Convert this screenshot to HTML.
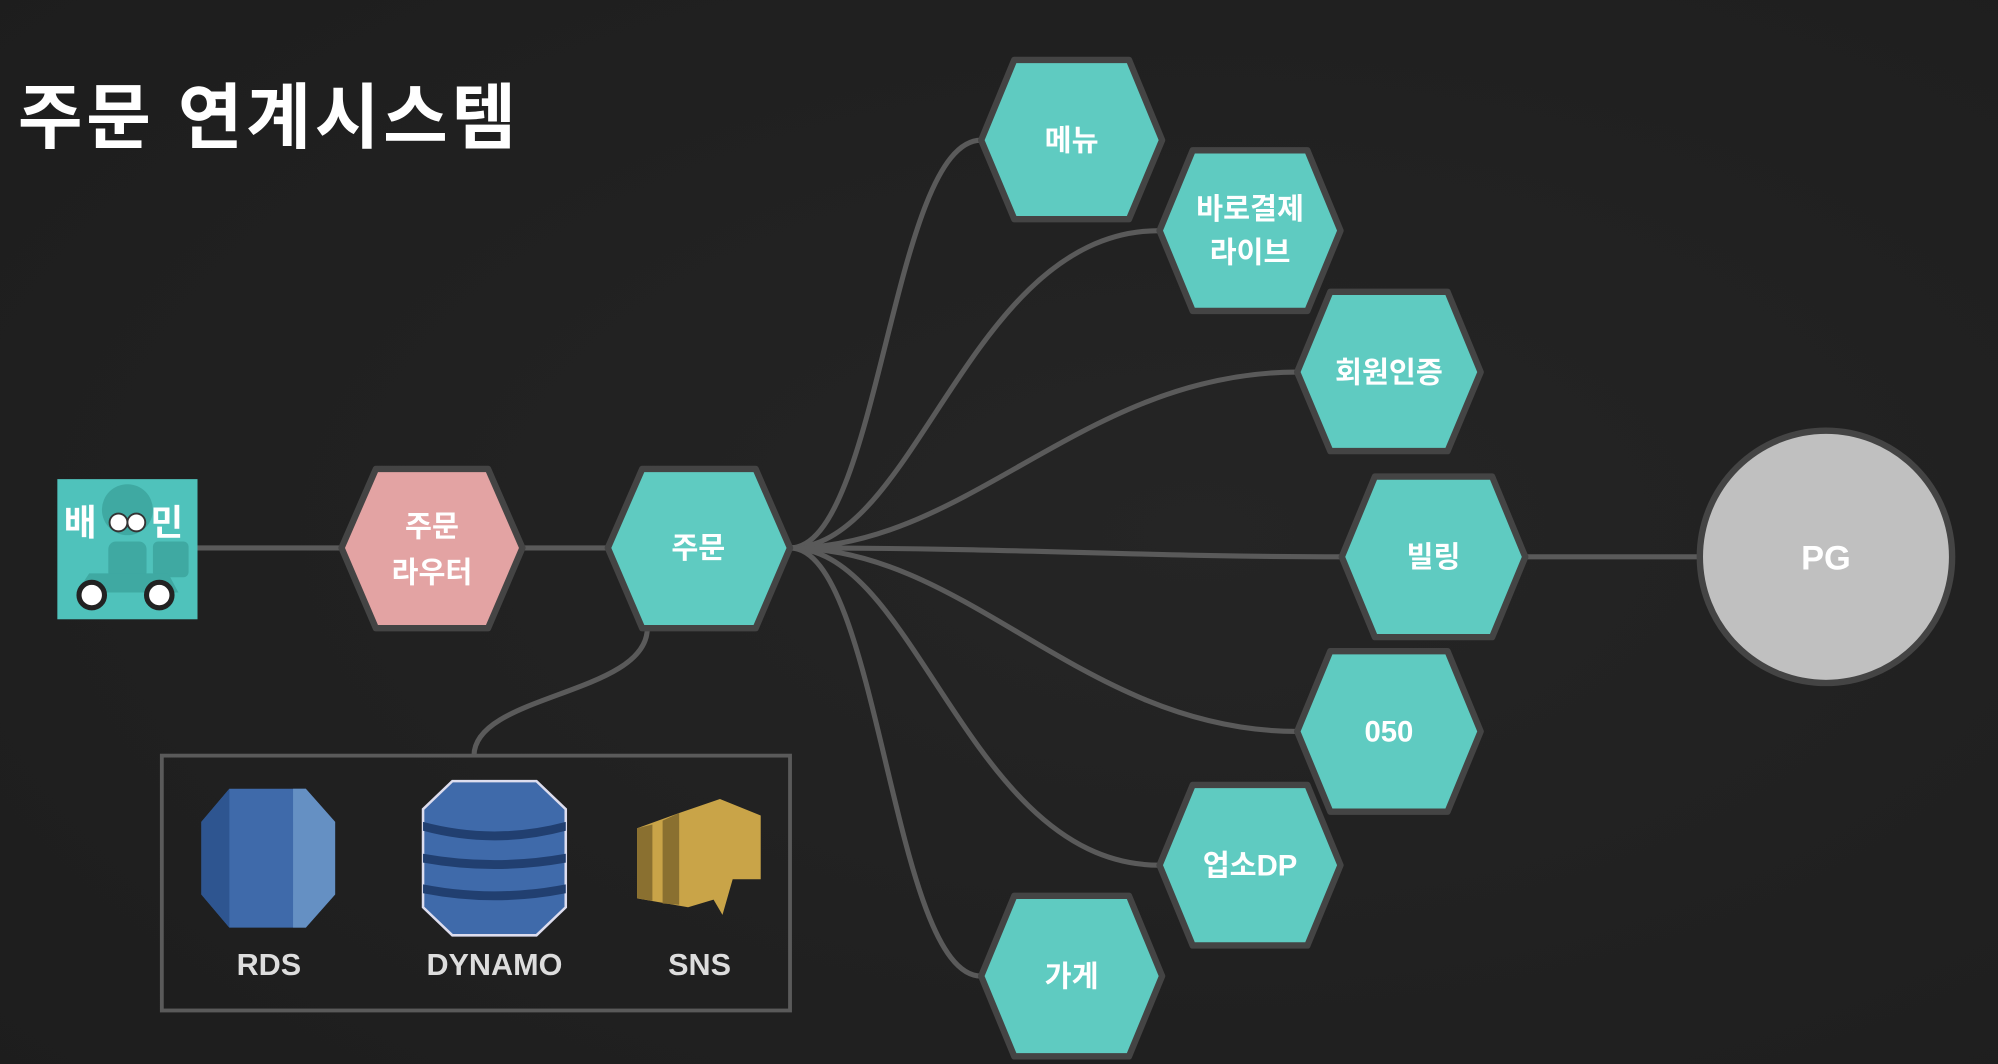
<!DOCTYPE html>
<html><head><meta charset="utf-8"><style>
html,body{margin:0;padding:0;background:#222;}
svg{display:block}
text{font-family:"Liberation Sans","Noto Sans CJK KR",sans-serif;font-weight:bold;}
</style></head><body>
<svg width="1998" height="1064" viewBox="0 0 1568 835" preserveAspectRatio="none" xmlns="http://www.w3.org/2000/svg">
<defs>
<radialGradient id="bg" cx="0.6" cy="0.5" r="0.8"><stop offset="0" stop-color="#252525"/><stop offset="1" stop-color="#1d1d1d"/></radialGradient>
</defs>
<rect width="1568" height="835" fill="url(#bg)"/>
<text x="14" y="112" font-size="56" fill="#fff" letter-spacing="3" textLength="394" lengthAdjust="spacingAndGlyphs">주문 연계시스템</text>

<g fill="none" stroke="#5a5a5a" stroke-width="4">
<line x1="155" y1="430" x2="268" y2="430"/>
<line x1="410" y1="430" x2="477" y2="430"/>
<path d="M620,430 C690,430 700,110 770,110"/>
<path d="M620,430 C720,430 760,181 910,181"/>
<path d="M620,430 C760,430 850,292 1018,292"/>
<path d="M620,430 C800,430 900,437 1053,437"/>
<path d="M620,430 C760,430 850,574 1018,574"/>
<path d="M620,430 C720,430 760,679 910,679"/>
<path d="M620,430 C690,430 700,766 770,766"/>
<line x1="1197" y1="437" x2="1333" y2="437"/>
<path d="M508,493 C508,545 372,545 372,593"/>
</g>

<g stroke="#444" stroke-width="5" stroke-linejoin="round">
<polygon points="268,430 295,368 383,368 410,430 383,493 295,493" fill="#e3a3a3"/>
<polygon points="477,430 504,368 593,368 620,430 593,493 504,493" fill="#5fcbc1"/>
<polygon points="770,110 796,47 886,47 912,110 886,172 796,172" fill="#5fcbc1"/>
<polygon points="910,181 936,118 1026,118 1052,181 1026,244 936,244" fill="#5fcbc1"/>
<polygon points="1018,292 1044,229 1136,229 1162,292 1136,354 1044,354" fill="#5fcbc1"/>
<polygon points="1053,437 1079,374 1171,374 1197,437 1171,500 1079,500" fill="#5fcbc1"/>
<polygon points="1018,574 1044,511 1136,511 1162,574 1136,637 1044,637" fill="#5fcbc1"/>
<polygon points="910,679 936,616 1026,616 1052,679 1026,742 936,742" fill="#5fcbc1"/>
<polygon points="770,766 796,703 886,703 912,766 886,829 796,829" fill="#5fcbc1"/>
<ellipse cx="1433" cy="437" rx="99" ry="99" fill="#c0c0c0"/>
</g>

<g fill="#fff" font-size="23" text-anchor="middle">
<text x="339" y="421">주문</text>
<text x="339" y="457">라우터</text>
<text x="548" y="438">주문</text>
<text x="841" y="118">메뉴</text>
<text x="981" y="172">바로결제</text>
<text x="981" y="206">라이브</text>
<text x="1090" y="300">회원인증</text>
<text x="1125" y="445">빌링</text>
<text x="1090" y="582">050</text>
<text x="981" y="687">업소DP</text>
<text x="841" y="774">가게</text>
<text x="1433" y="447" font-size="27">PG</text>
</g>

<!-- logo -->
<rect x="45" y="376" width="110" height="110" fill="#4fc2bb"/>
<text x="50" y="420" font-size="28" fill="#fff">배</text>
<text x="118" y="420" font-size="28" fill="#fff">민</text>
<circle cx="100" cy="400" r="20" fill="#3fa9a2"/>
<circle cx="93" cy="410" r="7" fill="#fff" stroke="#333" stroke-width="1.5"/>
<circle cx="107" cy="410" r="7" fill="#fff" stroke="#333" stroke-width="1.5"/>
<rect x="85" y="425" width="30" height="30" rx="6" fill="#3fa9a2"/>
<rect x="120" y="425" width="28" height="28" rx="4" fill="#3fa9a2"/>
<path d="M60,465 L140,465 L132,450 L70,450 Z" fill="#3fa9a2"/>
<circle cx="72" cy="467" r="10" fill="#fff" stroke="#222" stroke-width="4"/>
<circle cx="125" cy="467" r="10" fill="#fff" stroke="#222" stroke-width="4"/>

<!-- box -->
<rect x="127" y="593" width="493" height="200" fill="none" stroke="#5a5a5a" stroke-width="3"/>
<!-- RDS -->
<polygon points="180,619 240,619 263,645 263,702 240,728 180,728 158,702 158,645" fill="#3f6aaa"/>
<polygon points="158,645 180,619 180,728 158,702" fill="#2e5590"/>
<polygon points="230,619 240,619 263,645 263,702 240,728 230,728" fill="#6590c3"/>
<!-- DYNAMO -->
<polygon points="355,613 421,613 444,635 444,712 421,734 355,734 332,712 332,635" fill="#3f6aaa" stroke="#dde" stroke-width="2"/>
<path d="M332,645 Q388,660 444,645 L444,652 Q388,667 332,652Z M332,670 Q388,680 444,670 L444,677 Q388,687 332,677Z M332,694 Q388,705 444,694 L444,701 Q388,712 332,701Z" fill="#213f70"/>
<!-- SNS -->
<polygon points="533,638 565,627 597,640 597,690 575,690 567,718 560,706 540,712 500,705 500,650" fill="#c9a448"/>
<polygon points="500,650 512,647 512,707 500,705" fill="#8a7030"/>
<polygon points="520,644 533,638 533,710 520,709" fill="#8a7030"/>
<g fill="#ddd" font-size="24" text-anchor="middle">
<text x="211" y="765">RDS</text>
<text x="388" y="765">DYNAMO</text>
<text x="549" y="765">SNS</text>
</g>
</svg>
</body></html>
